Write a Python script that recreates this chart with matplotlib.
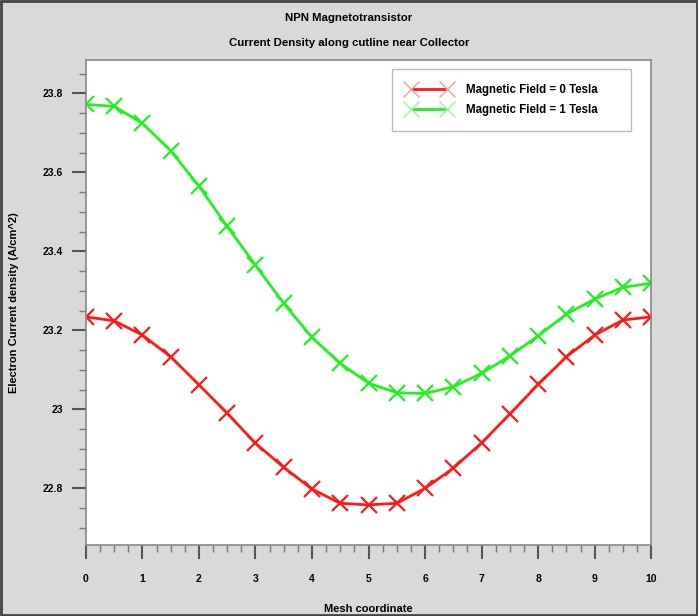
import numpy as np
import matplotlib
matplotlib.use('Agg')
import matplotlib.pyplot as plt
from matplotlib.patches import Rectangle
from matplotlib.ticker import MultipleLocator

plt.rcParams['font.family'] = ['Liberation Sans', 'DejaVu Sans']
plt.rcParams['font.weight'] = 'bold'

# mesh positions along the cutline
mesh = [0, 0.5, 1, 1.5, 2, 2.5, 3, 3.5, 4, 4.5, 5, 5.5, 6, 6.5, 7, 7.5, 8, 8.5, 9, 9.5, 10]

# electron current density (A/cm^2)
field_0T = [23.234, 23.224, 23.188, 23.133, 23.062, 22.990, 22.914, 22.853, 22.798, 22.762, 22.758,
            22.762, 22.800, 22.851, 22.915, 22.988, 23.063, 23.133, 23.188, 23.226, 23.234]
field_1T = [23.772, 23.767, 23.724, 23.655, 23.565, 23.463, 23.365, 23.268, 23.182, 23.116, 23.066,
            23.042, 23.040, 23.057, 23.091, 23.135, 23.186, 23.241, 23.279, 23.309, 23.319]

labels = ['Magnetic Field = 0 Tesla', 'Magnetic Field = 1 Tesla']
colors = ['#ff1a1a', '#22f022']
pale = ['#ff9a9a', '#9af59a']

fig = plt.figure(figsize=(6.98, 6.16), dpi=100, facecolor='#d9d9d9')
ax = fig.add_axes([0.123, 0.115, 0.810, 0.788])
ax.set_facecolor('white')

for ys, lab, c in zip([field_0T, field_1T], labels, colors):
    ax.plot(mesh, ys, color=c, lw=2, marker='x', ms=11, mew=1.6, label=lab)

ax.set_xlim(0, 10)
ax.set_ylim(22.656, 23.885)
ax.xaxis.set_major_locator(MultipleLocator(1))
ax.xaxis.set_minor_locator(MultipleLocator(0.25))
ax.yaxis.set_major_locator(MultipleLocator(0.2))
ax.yaxis.set_minor_locator(MultipleLocator(0.05))
ax.yaxis.set_major_formatter(plt.FuncFormatter(lambda v, p: f'{v:.1f}'.rstrip('0').rstrip('.')))

ax.tick_params(which='major', length=10, width=1.5, color='#555555', labelsize=7.5, pad=6.5)
ax.tick_params(which='minor', length=5, width=1, color='#777777')
ax.tick_params(axis='x', which='major', pad=10.5)
for lab in ax.get_xticklabels() + ax.get_yticklabels():
    lab.set_fontweight('bold')
for s in ax.spines.values():
    s.set_color('#888888')
    s.set_linewidth(1.2)

ax.set_xlabel('Mesh coordinate', fontsize=8, fontweight='bold', labelpad=15)
ax.set_ylabel('Electron Current density (A/cm^2)', fontsize=8, fontweight='bold', labelpad=17)

fig.text(0.5, 0.971, 'NPN Magnetotransistor', ha='center', va='center', fontsize=8.2, fontweight='bold')
fig.text(0.5, 0.930, 'Current Density along cutline near Collector', ha='center', va='center',
         fontsize=8.2, fontweight='bold')

# legend box fills a fixed region, entries stay left aligned
leg = ax.legend(loc='upper left', bbox_to_anchor=(0.5416, 0.8598, 0.423, 0.1216), mode='expand',
                numpoints=2, handlelength=3.8, handletextpad=1.3, frameon=True, fancybox=False,
                borderpad=1.3, labelspacing=0.75, borderaxespad=0,
                prop={'weight': 'bold', 'size': 8.3})
leg.get_frame().set_edgecolor('#aaaaaa')
for h, pc in zip(leg.legend_handles, pale):
    h.set_markeredgecolor(pc)
    h.set_markeredgewidth(1.0)

fig.patches.append(Rectangle((0.002, 0.002), 0.996, 0.996, transform=fig.transFigure,
                             fill=False, edgecolor='#444444', lw=2))

fig.savefig('out.png', dpi=100, facecolor=fig.get_facecolor())
